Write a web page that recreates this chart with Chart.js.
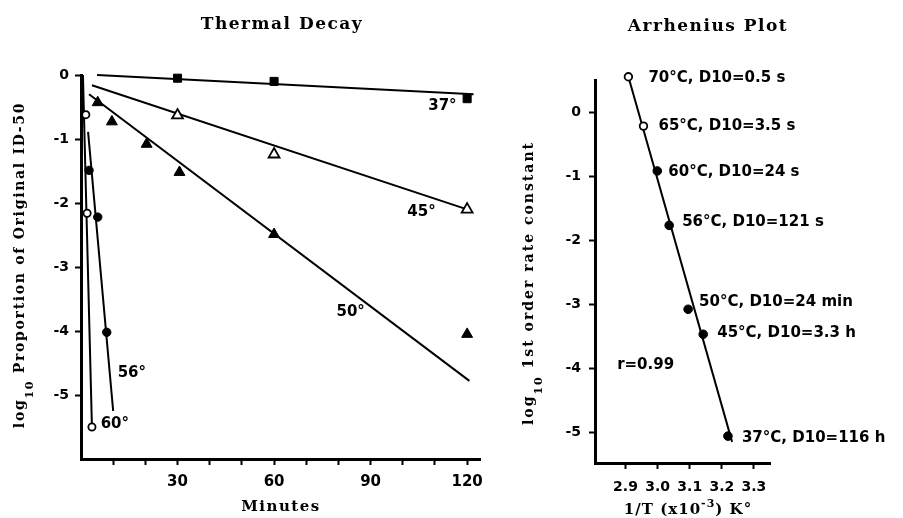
<!DOCTYPE html>
<html>
<head>
<meta charset="utf-8">
<script src="https://cdn.jsdelivr.net/npm/chart.js@4.4.1/dist/chart.umd.min.js"></script>
<style>
  html, body { margin: 0; padding: 0; background: #fff; }
  #wrap { position: relative; width: 903px; height: 518px; }
  canvas { position: absolute; top: 0; }
</style>
</head>
<body>
<div id="wrap">
  <canvas id="decayChart" width="500" height="518" style="left:0"></canvas>
  <canvas id="arrChart" width="403" height="518" style="left:500px"></canvas>
</div>
<script>
// ---- Thermal decay (log10 proportion remaining vs minutes) ----
const min37 = [30, 60, 120];
const log37 = [-0.05, -0.1, -0.37];
const fitMin37 = [5, 122];
const fitLog37 = [0.0, -0.3];

const min45 = [30, 60, 120];
const log45 = [-0.63, -1.24, -2.1];
const fitMin45 = [3.4, 120];
const fitLog45 = [-0.16, -2.1];

const min50 = [5.2, 9.6, 20.4, 30.6, 60, 120];
const log50 = [-0.43, -0.73, -1.08, -1.52, -2.49, -4.05];
const fitMin50 = [2.5, 120.7];
const fitLog50 = [-0.3, -4.78];

const min56 = [2.5, 5.2, 8];
const log56 = [-1.49, -2.22, -4.02];
const fitMin56 = [2.2, 10];
const fitLog56 = [-0.89, -5.25];

const min60 = [1.5, 1.9, 3.4];
const log60 = [-0.62, -2.16, -5.5];
const fitMin60 = [0.6, 3.4];
const fitLog60 = [0.0, -5.5];

const decayTicksX = [10, 20, 30, 40, 50, 60, 70, 80, 90, 100, 110, 120];
const decayLabelsX = [30, 60, 90, 120];
const decayTicksY = [0, -1, -2, -3, -4, -5];

// curve labels, anchored in data units (left edge, middle)
const decayNoteText = ['37°', '45°', '50°', '56°', '60°'];
const decayNoteX = [107.9, 101.4, 79.4, 11.4, 6.1];
const decayNoteY = [-0.49, -2.15, -3.71, -4.66, -5.45];

// ---- Arrhenius plot ----
const arrLabels = ['70°C, D10=0.5 s', '65°C, D10=3.5 s', '60°C, D10=24 s', '56°C, D10=121 s',
                   '50°C, D10=24 min', '45°C, D10=3.3 h', '37°C, D10=116 h'];
const arrInvT = [2.909, 2.956, 2.999, 3.036, 3.095, 3.142, 3.219];
const arrLogK = [0.55, -0.22, -0.92, -1.77, -3.08, -3.47, -5.06];
const arrOpen = [true, true, false, false, false, false, false];
const arrFitX = [2.909, 3.232];
const arrFitY = [0.55, -5.15];
const arrTicksX = [2.9, 3.0, 3.1, 3.2, 3.3];
const arrTicksY = [0, -1, -2, -3, -4, -5];

const NUM_FONT = '"DejaVu Sans", sans-serif';
const SERIF = '"DejaVu Serif", serif';

function pts(xs, ys) {
  return xs.map((x, i) => ({ x: x, y: ys[i] }));
}

function marks(xs, ys, style, open, radius) {
  return {
    data: pts(xs, ys),
    showLine: false,
    pointStyle: style,
    pointRadius: radius,
    pointHoverRadius: radius,
    pointBackgroundColor: open ? '#fff' : '#000',
    pointBorderColor: '#000',
    pointBorderWidth: open ? 1.8 : 1,
    clip: false
  };
}

function fit(xs, ys) {
  return {
    data: pts(xs, ys),
    showLine: true,
    pointRadius: 0,
    borderColor: '#000',
    borderWidth: 2,
    clip: false
  };
}

function axisStyle(tickList, labelFn, size, pad, fitKey, fitSize) {
  return {
    afterBuildTicks: s => { s.ticks = tickList.map(v => ({ value: v })); },
    afterFit: s => { s[fitKey] = fitSize; },
    ticks: {
      callback: labelFn,
      color: '#000',
      font: { family: NUM_FONT, size: size, weight: 'bold' },
      padding: pad,
      maxRotation: 0,
      autoSkip: false
    },
    grid: { drawOnChartArea: false, drawTicks: true, tickLength: 6, tickWidth: 2, tickColor: '#000' },
    border: { display: true, width: 3, color: '#000' }
  };
}

function text(ctx, str, x, y, font, align, spacing) {
  ctx.save();
  ctx.font = font;
  ctx.letterSpacing = spacing || '0px';
  ctx.textAlign = align || 'left';
  ctx.textBaseline = 'middle';
  ctx.fillStyle = '#000';
  ctx.fillText(str, x, y);
  ctx.restore();
}

// rotated "log10 ..." axis title, subscript 10
function logTitle(ctx, baseX, midY, rest, spacing) {
  const big = 'bold 14px ' + SERIF, small = 'bold 11px ' + SERIF;
  ctx.save();
  ctx.translate(baseX, midY);
  ctx.rotate(-Math.PI / 2);
  ctx.letterSpacing = spacing;
  ctx.fillStyle = '#000';
  ctx.textBaseline = 'alphabetic';
  ctx.font = big; const w1 = ctx.measureText('log').width;
  ctx.font = small; const w2 = ctx.measureText('10').width;
  ctx.font = big; const w3 = ctx.measureText(rest).width;
  let x = -(w1 + w2 + w3) / 2;
  ctx.font = big; ctx.fillText('log', x, 0); x += w1;
  ctx.font = small; ctx.fillText('10', x, 9); x += w2;
  ctx.font = big; ctx.fillText(rest, x, 0);
  ctx.restore();
}

const decayText = {
  id: 'decayText',
  afterDraw(chart) {
    const ctx = chart.ctx, xs = chart.scales.x, ys = chart.scales.y;
    text(ctx, 'Thermal Decay', 282, 25, 'bold 17px ' + SERIF, 'center', '1.5px');
    text(ctx, 'Minutes', 281, 507, 'bold 15px ' + SERIF, 'center', '1.5px');
    logTitle(ctx, 24, 265, ' Proportion of Original ID-50', '1.7px');
    decayNoteText.forEach((t, i) => {
      text(ctx, t, xs.getPixelForValue(decayNoteX[i]), ys.getPixelForValue(decayNoteY[i]),
        'bold 15px ' + NUM_FONT, 'left');
    });
  }
};

const decayChart = new Chart(document.getElementById('decayChart'), {
  type: 'scatter',
  data: {
    datasets: [
      marks(min37, log37, 'rect', false, 5.7),
      marks(min45, log45, 'triangle', true, 6.3),
      marks(min50, log50, 'triangle', false, 6.3),
      marks(min56, log56, 'circle', false, 4.2),
      marks(min60, log60, 'circle', true, 3.6),
      fit(fitMin37, fitLog37),
      fit(fitMin45, fitLog45),
      fit(fitMin50, fitLog50),
      fit(fitMin56, fitLog56),
      fit(fitMin60, fitLog60)
    ]
  },
  options: {
    responsive: false,
    animation: false,
    devicePixelRatio: 1,
    layout: { padding: { left: 0, top: 75, right: 20, bottom: 0 } },
    plugins: { legend: { display: false }, tooltip: { enabled: false } },
    scales: {
      x: Object.assign({ type: 'linear', min: 0, max: 124 },
        axisStyle(decayTicksX, v => decayLabelsX.includes(v) ? String(v) : '', 15, 8, 'height', 59)),
      y: Object.assign({ type: 'linear', min: -6, max: 0 },
        axisStyle(decayTicksY, v => String(v), 14, 6, 'width', 81))
    }
  },
  plugins: [decayText]
});

const arrText = {
  id: 'arrText',
  afterDraw(chart) {
    const ctx = chart.ctx, xs = chart.scales.x, ys = chart.scales.y;
    const offs = [[20, 1], [15, 0], [11, 1], [13, -3], [11, -7], [14, -1], [14, 2]];
    text(ctx, 'Arrhenius Plot', 208, 27, 'bold 17px ' + SERIF, 'center', '1.5px');
    arrLabels.forEach((t, i) => {
      text(ctx, t, xs.getPixelForValue(arrInvT[i]) + offs[i][0], ys.getPixelForValue(arrLogK[i]) + offs[i][1],
        'bold 15px ' + NUM_FONT, 'left');
    });
    text(ctx, 'r=0.99', xs.getPixelForValue(2.874), ys.getPixelForValue(-3.95), 'bold 15px ' + NUM_FONT, 'left');
    logTitle(ctx, 33, 283, ' 1st order rate constant', '2px');
    // x title with superscript -3
    ctx.save();
    ctx.letterSpacing = '1px';
    const a = '1/T (x10', b = '-3', c = ') K°';
    ctx.font = 'bold 15px ' + SERIF;
    const wa = ctx.measureText(a).width, wc = ctx.measureText(c).width;
    ctx.font = 'bold 11px ' + SERIF;
    const wb = ctx.measureText(b).width;
    let x = 188 - (wa + wb + wc) / 2;
    ctx.fillStyle = '#000';
    ctx.textBaseline = 'alphabetic';
    ctx.font = 'bold 15px ' + SERIF; ctx.fillText(a, x, 514); x += wa;
    ctx.font = 'bold 11px ' + SERIF; ctx.fillText(b, x, 507); x += wb;
    ctx.font = 'bold 15px ' + SERIF; ctx.fillText(c, x, 514);
    ctx.restore();
  }
};

const arrChart = new Chart(document.getElementById('arrChart'), {
  type: 'scatter',
  data: {
    datasets: [
      {
        data: pts(arrInvT, arrLogK),
        showLine: false,
        pointRadius: arrOpen.map(o => o ? 3.8 : 4.3),
        pointHoverRadius: arrOpen.map(o => o ? 3.8 : 4.3),
        pointBackgroundColor: arrOpen.map(o => o ? '#fff' : '#000'),
        pointBorderColor: '#000',
        pointBorderWidth: arrOpen.map(o => o ? 1.8 : 1),
        clip: false
      },
      fit(arrFitX, arrFitY)
    ]
  },
  options: {
    responsive: false,
    animation: false,
    devicePixelRatio: 1,
    layout: { padding: { left: 0, top: 80, right: 133, bottom: 0 } },
    plugins: { legend: { display: false }, tooltip: { enabled: false } },
    scales: {
      x: Object.assign({ type: 'linear', min: 2.805, max: 3.35 },
        axisStyle(arrTicksX, v => v.toFixed(1), 14, 10, 'height', 55)),
      y: Object.assign({ type: 'linear', min: -5.48, max: 0.5 },
        axisStyle(arrTicksY, v => String(v), 14, 8, 'width', 95))
    }
  },
  plugins: [arrText]
});
</script>
</body>
</html>
